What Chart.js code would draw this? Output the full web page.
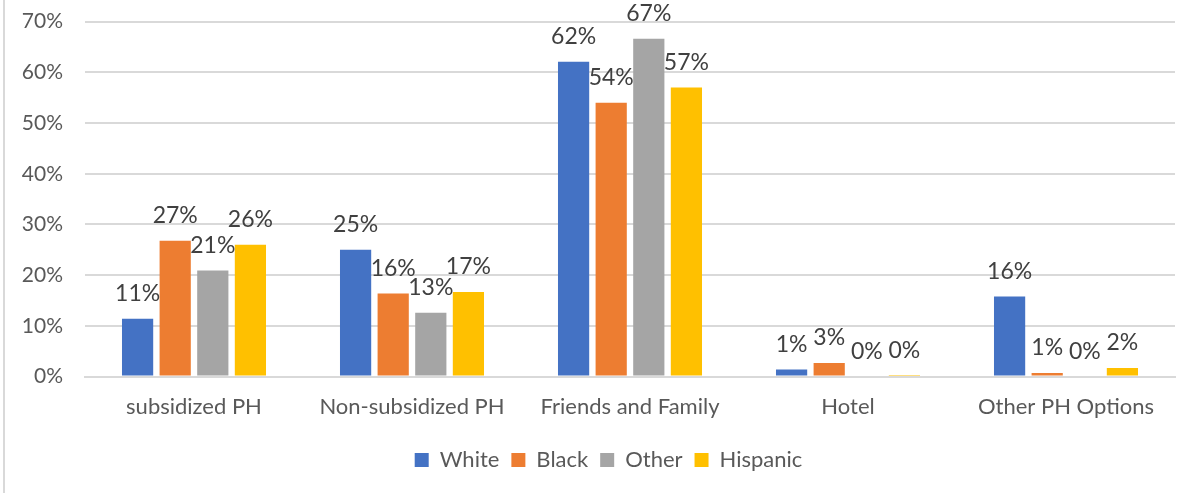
<!DOCTYPE html>
<html>
<head>
<meta charset="utf-8">
<script src="https://cdn.jsdelivr.net/npm/chart.js@4"></script>
<style>
  html, body { margin: 0; padding: 0; background: #fff; overflow: hidden; }
  #wrap { position: relative; width: 1193px; height: 493px; overflow: hidden; }
  #edge { position: absolute; left: 3px; top: 0; width: 2px; height: 493px; background: #d9d9d9; }
  canvas { position: absolute; left: 0; top: -13px; }
</style>
</head>
<body>
<div id="wrap">
  <canvas id="chart" width="1193" height="506"></canvas>
  <div id="edge"></div>
</div>
<script>
// categories and series (percent)
const categories = ['subsidized PH', 'Non-subsidized PH', 'Friends and Family', 'Hotel', 'Other PH Options'];
const white = [11.4, 25.0, 62.1, 1.4, 15.8];
const black = [26.8, 16.4, 54.0, 2.7, 0.7];
const other = [20.9, 12.6, 66.6, 0, 0];
const hispanic = [26.0, 16.7, 57.0, 0.3, 1.7];
const yTicks = [0, 10, 20, 30, 40, 50, 60, 70];

const fontFamily = 'Lato, "Open Sans", sans-serif';

// simple value labels above each bar
const barLabels = {
  id: 'barLabels',
  afterDatasetsDraw(chart) {
    const ctx = chart.ctx;
    ctx.save();
    ctx.font = '23px ' + fontFamily;
    ctx.fillStyle = '#404040';
    ctx.textAlign = 'center';
    ctx.textBaseline = 'middle';
    chart.data.datasets.forEach((ds, i) => {
      chart.getDatasetMeta(i).data.forEach((bar, j) => {
        ctx.fillText(Math.round(ds.data[j]) + '%', bar.x, bar.y - 25);
      });
    });
    ctx.restore();
  }
};

// nudge the legend so it sits centred a bit right, like the original
const legendShift = {
  id: 'legendShift',
  afterLayout(chart) {
    if (chart.legend) {
      chart.legend.left += 21;
      chart.legend.right += 21;
    }
  }
};

new Chart(document.getElementById('chart'), {
  type: 'bar',
  data: {
    labels: categories,
    datasets: [
      { label: 'White', data: white, backgroundColor: '#4472c4' },
      { label: 'Black', data: black, backgroundColor: '#ed7d31' },
      { label: 'Other', data: other, backgroundColor: '#a5a5a5' },
      { label: 'Hispanic', data: hispanic, backgroundColor: '#ffc000' }
    ]
  },
  options: {
    responsive: false,
    animation: false,
    datasets: { bar: { categoryPercentage: 0.69, barPercentage: 0.83 } },
    layout: { padding: { top: 0, right: 18, bottom: 12, left: 0 } },
    scales: {
      x: {
        grid: { display: false, drawTicks: false },
        border: { color: '#d9d9d9', width: 2 },
        ticks: { color: '#595959', font: { family: fontFamily, size: 22 }, padding: 17 }
      },
      y: {
        min: 0,
        max: 70,
        afterBuildTicks(scale) { scale.ticks = yTicks.map(v => ({ value: v })); },
        afterFit(scale) { scale.width = 85; },
        grid: { color: '#d9d9d9', lineWidth: 2, drawTicks: false },
        border: { display: false },
        ticks: {
          color: '#595959',
          font: { family: fontFamily, size: 21 },
          padding: 22,
          callback: v => v + '%'
        }
      }
    },
    plugins: {
      legend: {
        position: 'bottom',
        labels: {
          color: '#595959',
          font: { family: fontFamily, size: 22 },
          boxWidth: 14,
          boxHeight: 14,
          padding: 12
        }
      },
      tooltip: { enabled: false }
    }
  },
  plugins: [barLabels, legendShift]
});
</script>
</body>
</html>
